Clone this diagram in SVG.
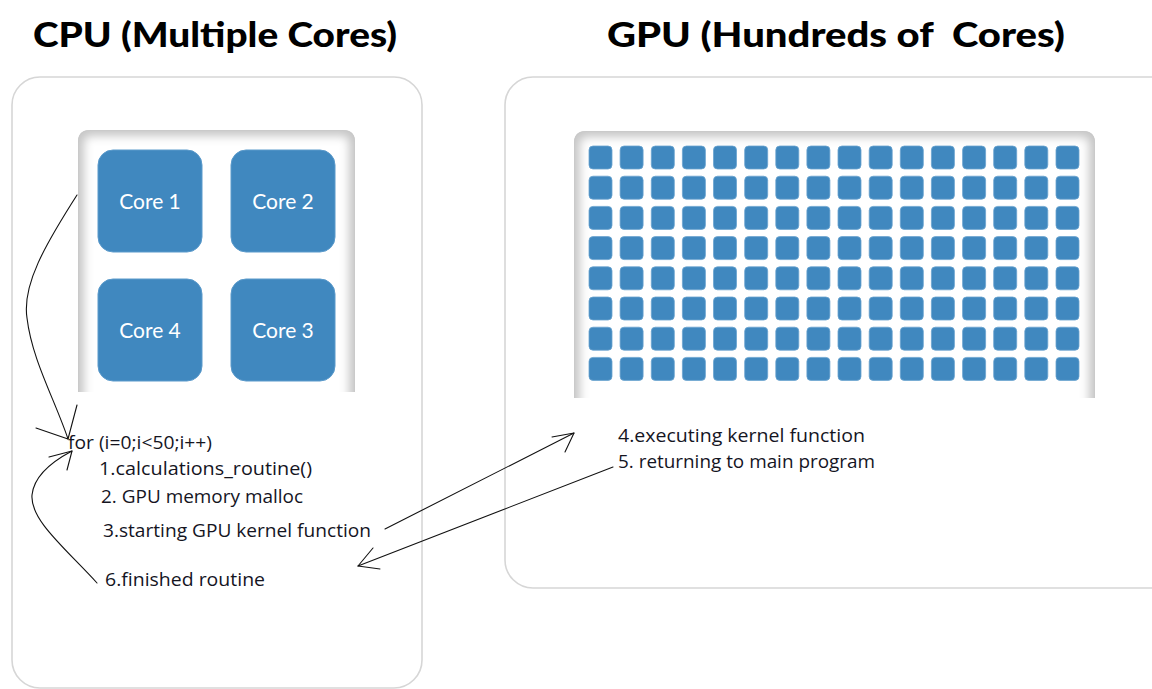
<svg xmlns="http://www.w3.org/2000/svg" xmlns:xlink="http://www.w3.org/1999/xlink" width="1152" height="689" viewBox="0 0 1152 689">
<style>
.title{font-family:Lato,"Liberation Sans",sans-serif;font-weight:900;font-size:34px;fill:#000}
.box{fill:#fff;stroke:#d6d6d6;stroke-width:1.6}
.core{fill:#4088bf;stroke:#5b9acb;stroke-width:1}
.corelbl{font-family:Lato,"Liberation Sans",sans-serif;font-weight:400;font-size:21px;fill:#fff;text-anchor:middle}
.cell{fill:#4088bf;stroke:#6aa3cf;stroke-width:0.8}
.txt{font-family:"Open Sans","Liberation Sans",sans-serif;font-size:19px;fill:#15151f}
.wire{fill:none;stroke:#111;stroke-width:1.1;stroke-linecap:round;stroke-linejoin:round}
</style>
<defs>
<filter id="soft" x="-20%" y="-20%" width="140%" height="140%"><feGaussianBlur stdDeviation="5"/></filter>
<clipPath id="cpuPanelClip"><path d="M78,392 V142 Q78,130 90,130 H343 Q355,130 355,142 V392 Z"/></clipPath>
<clipPath id="gpuPanelClip"><path d="M574,398 V143 Q574,131 586,131 H1083 Q1095,131 1095,143 V398 Z"/></clipPath>
<g id="row">
<rect class="cell" x="589" y="146" width="23" height="23" rx="4"/>
<rect class="cell" x="620.1" y="146" width="23" height="23" rx="4"/>
<rect class="cell" x="651.3" y="146" width="23" height="23" rx="4"/>
<rect class="cell" x="682.4" y="146" width="23" height="23" rx="4"/>
<rect class="cell" x="713.5" y="146" width="23" height="23" rx="4"/>
<rect class="cell" x="744.7" y="146" width="23" height="23" rx="4"/>
<rect class="cell" x="775.8" y="146" width="23" height="23" rx="4"/>
<rect class="cell" x="806.9" y="146" width="23" height="23" rx="4"/>
<rect class="cell" x="838" y="146" width="23" height="23" rx="4"/>
<rect class="cell" x="869.2" y="146" width="23" height="23" rx="4"/>
<rect class="cell" x="900.3" y="146" width="23" height="23" rx="4"/>
<rect class="cell" x="931.4" y="146" width="23" height="23" rx="4"/>
<rect class="cell" x="962.6" y="146" width="23" height="23" rx="4"/>
<rect class="cell" x="993.7" y="146" width="23" height="23" rx="4"/>
<rect class="cell" x="1024.8" y="146" width="23" height="23" rx="4"/>
<rect class="cell" x="1056" y="146" width="23" height="23" rx="4"/>
</g>
</defs>
<rect width="1152" height="689" fill="#fff"/>

<text class="title" x="33" y="47" textLength="364" lengthAdjust="spacingAndGlyphs">CPU (Multiple Cores)</text>
<text class="title" x="607" y="47" textLength="458" lengthAdjust="spacingAndGlyphs" xml:space="preserve">GPU (Hundreds of  Cores)</text>

<g id="cpu">
<rect class="box" x="12" y="77" width="410" height="611" rx="28"/>
<g id="cpu-panel" clip-path="url(#cpuPanelClip)">
<rect x="70" y="120" width="300" height="290" fill="#c6c6c6"/>
<rect x="84" y="136" width="265" height="300" rx="6" fill="#fff" filter="url(#soft)"/>
<path d="M78,392 V142 Q78,130 90,130 H343 Q355,130 355,142 V392" fill="none" stroke="#c8c8c8" stroke-width="1"/>
</g>
<g id="core1"><rect class="core" x="98" y="150" width="104" height="102" rx="15"/><text class="corelbl" x="150" y="209">Core 1</text></g>
<g id="core2"><rect class="core" x="231" y="150" width="104" height="102" rx="15"/><text class="corelbl" x="283" y="209">Core 2</text></g>
<g id="core4"><rect class="core" x="98" y="279" width="104" height="102" rx="15"/><text class="corelbl" x="150" y="338">Core 4</text></g>
<g id="core3"><rect class="core" x="231" y="279" width="104" height="102" rx="15"/><text class="corelbl" x="283" y="338">Core 3</text></g>
<text class="txt" x="68" y="449" textLength="144" lengthAdjust="spacingAndGlyphs">for (i=0;i&lt;50;i++)</text>
<text class="txt" x="99" y="475" textLength="213" lengthAdjust="spacingAndGlyphs">1.calculations_routine()</text>
<text class="txt" x="101" y="503" textLength="202" lengthAdjust="spacingAndGlyphs">2. GPU memory malloc</text>
<text class="txt" x="103" y="537" textLength="268" lengthAdjust="spacingAndGlyphs">3.starting GPU kernel function</text>
<text class="txt" x="105" y="586" textLength="160" lengthAdjust="spacingAndGlyphs">6.finished routine</text>
</g>

<g id="gpu">
<rect class="box" x="505" y="77" width="680" height="511" rx="28"/>
<g id="gpu-panel" clip-path="url(#gpuPanelClip)">
<rect x="560" y="120" width="550" height="300" fill="#c6c6c6"/>
<rect x="580" y="137" width="509" height="300" rx="6" fill="#fff" filter="url(#soft)"/>
<path d="M574,398 V143 Q574,131 586,131 H1083 Q1095,131 1095,143 V398" fill="none" stroke="#c8c8c8" stroke-width="1"/>
</g>
<g id="gpu-cores">
<use xlink:href="#row"/>
<use xlink:href="#row" y="30.2"/>
<use xlink:href="#row" y="60.4"/>
<use xlink:href="#row" y="90.6"/>
<use xlink:href="#row" y="120.8"/>
<use xlink:href="#row" y="151"/>
<use xlink:href="#row" y="181.2"/>
<use xlink:href="#row" y="211.4"/>
</g>
<text class="txt" x="618" y="442" textLength="247" lengthAdjust="spacingAndGlyphs">4.executing kernel function</text>
<text class="txt" x="618" y="468" textLength="257" lengthAdjust="spacingAndGlyphs">5. returning to main program</text>
</g>

<g id="connectors">
<path class="wire" d="M77,195 C45,245 22,285 27,318 C32,360 55,400 68,439"/>
<path class="wire" d="M36,428 L68,439 L77,405"/>
<path class="wire" d="M97,583 C65,548 30,520 32,495 C34,475 55,460 72,451"/>
<path class="wire" d="M49,457 L72,451 L67,470"/>
<path class="wire" d="M385,529 L574,433"/>
<path class="wire" d="M552,437 L574,433 L565,452"/>
<path class="wire" d="M613,467 L358,566"/>
<path class="wire" d="M373,548 L358,566 L380,569"/>
</g>
</svg>
